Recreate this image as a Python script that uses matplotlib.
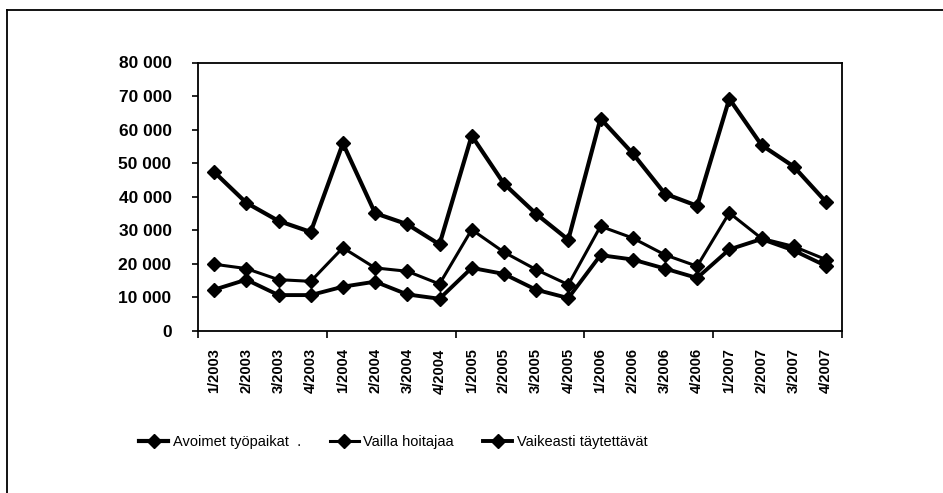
import matplotlib
matplotlib.use("Agg")
import matplotlib.pyplot as plt
from matplotlib.lines import Line2D

plt.rcParams['font.family'] = ['Liberation Sans', 'DejaVu Sans']

quarters = ['1/2003', '2/2003', '3/2003', '4/2003',
            '1/2004', '2/2004', '3/2004', '4/2004',
            '1/2005', '2/2005', '3/2005', '4/2005',
            '1/2006', '2/2006', '3/2006', '4/2006',
            '1/2007', '2/2007', '3/2007', '4/2007']

avoimet = [47400, 38200, 32800, 29500, 55900, 35100, 31800, 25800,
           58200, 43900, 34900, 27200, 63300, 52900, 40900, 37300,
           69200, 55400, 49000, 38500]
vailla = [19900, 18600, 15300, 14800, 24800, 18800, 17800, 14000,
          30200, 23500, 18300, 13800, 31200, 27700, 22700, 19300,
          35200, 27600, 25200, 21300]
vaikeasti = [12300, 15300, 10700, 10700, 13200, 14700, 10900, 9600,
             18800, 17000, 12300, 9800, 22600, 21300, 18600, 15800,
             24300, 27400, 24000, 19400]

y_ticks = list(range(0, 80001, 10000))
y_labels = ['0' if v == 0 else f'{v // 1000} 000' for v in y_ticks]

fig = plt.figure(figsize=(9.43, 4.93), dpi=100)
ax = fig.add_axes([198 / 943, 1 - 331 / 493, (842 - 198) / 943, (331 - 62.5) / 493])

x = list(range(len(quarters)))
ax.plot(x, avoimet, color='black', lw=3.0, marker='D', ms=7.5, label='Avoimet työpaikat  .')
ax.plot(x, vailla, color='black', lw=2.2, marker='D', ms=7, label='Vailla hoitajaa')
ax.plot(x, vaikeasti, color='black', lw=2.8, marker='D', ms=7.5, label='Vaikeasti täytettävät')

ax.set_xlim(-0.5, len(quarters) - 0.5)
ax.set_ylim(0, 80000)
ax.set_yticks(y_ticks)
ax.set_yticklabels(y_labels, fontsize=12.5, fontweight='bold')
ax.tick_params(axis='y', direction='out', length=4, width=1.2, pad=15)

# category labels sit between the tick marks
ax.set_xticks([-0.5 + 4 * i for i in range(6)])
ax.set_xticklabels([])
ax.set_xticks(x, minor=True)
ax.set_xticklabels(quarters, minor=True, rotation=90, fontsize=10.5, fontweight='bold')
ax.tick_params(axis='x', which='major', direction='out', length=5, width=1.2)
ax.tick_params(axis='x', which='minor', length=0, pad=12.5)

for s in ax.spines.values():
    s.set_linewidth(1.3)

fig.legend(loc='center', bbox_to_anchor=(0.417, 0.103), ncol=3, frameon=False,
           fontsize=10.5, handlelength=2.0, handletextpad=0.3, columnspacing=2.0)

# outer frame of the scanned page
fig.add_artist(Line2D([7 / 943, 7 / 943], [1 - 10 / 493, 0], color='black', lw=1.3))
fig.add_artist(Line2D([7 / 943, 1], [1 - 10 / 493, 1 - 10 / 493], color='black', lw=1.3))

fig.savefig('out.png', dpi=100)
